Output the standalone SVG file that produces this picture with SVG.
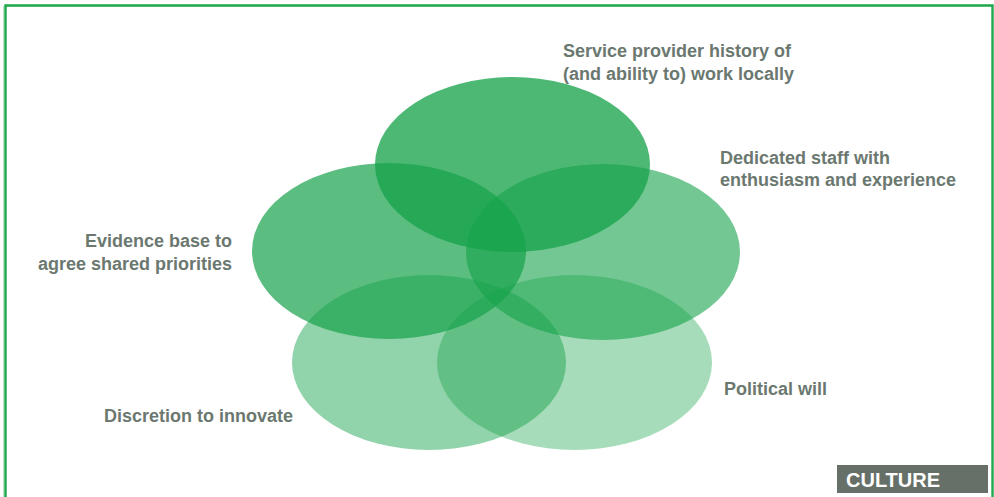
<svg xmlns="http://www.w3.org/2000/svg" width="994" height="497" viewBox="0 0 994 497">
<style>
.e{fill:#16a24a}
.t{font-family:"Liberation Sans",Arial,sans-serif;font-weight:bold;font-size:18px;fill:#6b7870}
.r{text-anchor:end}
</style>
<rect x="0" y="0" width="994" height="497" fill="#ffffff"/>
<path d="M5.5,497 V5.5 H992.5 V497" fill="none" stroke="#1ea64a" stroke-width="2.4"/>
<line x1="3.5" y1="6" x2="3.5" y2="497" stroke="#b8e2c4" stroke-width="1"/>
<g id="ellipses">
<g id="n-bottom-right"><ellipse class="e" cx="574.5" cy="362.5" rx="137.5" ry="87.5" fill-opacity="0.38"/></g>
<g id="n-bottom-left"><ellipse class="e" cx="429" cy="362.5" rx="137" ry="87.5" fill-opacity="0.47"/></g>
<g id="n-right"><ellipse class="e" cx="603" cy="252" rx="137" ry="88" fill-opacity="0.6"/></g>
<g id="n-left"><ellipse class="e" cx="389" cy="251" rx="137" ry="88" fill-opacity="0.7"/></g>
<g id="n-top"><ellipse class="e" cx="512.5" cy="164.5" rx="137.5" ry="87.5" fill-opacity="0.77"/></g>
</g>
<g id="labels">
<text class="t" x="563" y="57">Service provider history of</text>
<text class="t" x="563" y="80">(and ability to) work locally</text>
<text class="t" x="720" y="164">Dedicated staff with</text>
<text class="t" x="720" y="186">enthusiasm and experience</text>
<text class="t r" x="232" y="247">Evidence base to</text>
<text class="t r" x="232" y="270">agree shared priorities</text>
<text class="t" x="724" y="395">Political will</text>
<text class="t" x="104" y="422">Discretion to innovate</text>
</g>
<g id="culture">
<rect x="837" y="465" width="151" height="28" fill="#667068"/>
<text x="846" y="487" font-family="'Liberation Sans',Arial,sans-serif" font-weight="bold" font-size="20" fill="#ffffff">CULTURE</text>
</g>
<g id="connectors"></g>
</svg>
